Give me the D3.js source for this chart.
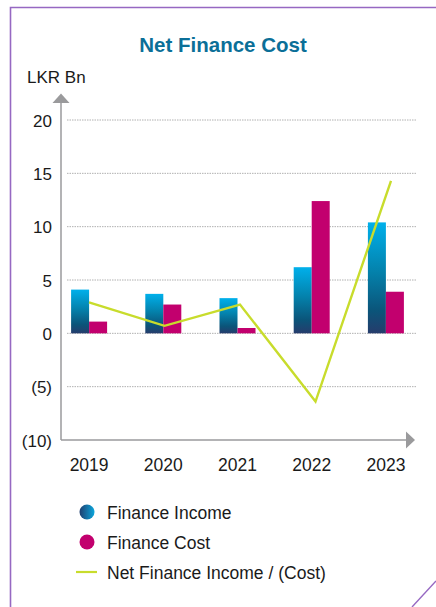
<!DOCTYPE html>
<html>
<head>
<meta charset="utf-8">
<script src="https://cdn.jsdelivr.net/npm/d3@7"></script>
<style>
  html, body { margin: 0; padding: 0; background: #fff; }
  svg { display: block; font-family: "Liberation Sans", Arial, Helvetica, sans-serif; }
</style>
</head>
<body>
<svg id="chart" width="436" height="607"></svg>
<script>
// Net finance figures, LKR Bn
const years = ["2019", "2020", "2021", "2022", "2023"];
const financeIncome = [4.1, 3.7, 3.3, 6.2, 10.4];
const financeCost = [1.1, 2.7, 0.5, 12.4, 3.9];
const netFinance = [2.9, 0.7, 2.7, -6.4, 14.3];
const yTicks = [-10, -5, 0, 5, 10, 15, 20];
const legendLabels = ["Finance Income", "Finance Cost", "Net Finance Income / (Cost)"];

const svg = d3.select("#chart");
const defs = svg.append("defs");

// vertical gradient for income bars
const barGrad = defs.append("linearGradient")
  .attr("id", "incomeGrad").attr("x1", 0).attr("y1", 0).attr("x2", 0).attr("y2", 1);
barGrad.append("stop").attr("offset", "0%").attr("stop-color", "#00b0eb");
barGrad.append("stop").attr("offset", "45%").attr("stop-color", "#0481ab");
barGrad.append("stop").attr("offset", "80%").attr("stop-color", "#0b5479");
barGrad.append("stop").attr("offset", "100%").attr("stop-color", "#263c6c");

// horizontal gradient for the legend dot
const dotGrad = defs.append("linearGradient")
  .attr("id", "incomeDot").attr("x1", 0).attr("y1", 0).attr("x2", 1).attr("y2", 0);
dotGrad.append("stop").attr("offset", "0%").attr("stop-color", "#1f3f70");
dotGrad.append("stop").attr("offset", "100%").attr("stop-color", "#0aa6dc");

const magenta = "#c2006e";
const lime = "#c8dc2c";
const axisGrey = "#9a9a9c";
const purple = "#9668c2";

// frame
svg.append("path")
  .attr("d", "M10.5,607 L10.5,7.5 L436,7.5")
  .attr("fill", "none").attr("stroke", purple).attr("stroke-width", 1.6);
svg.append("line")
  .attr("x1", 412).attr("y1", 607).attr("x2", 436).attr("y2", 581)
  .attr("stroke", purple).attr("stroke-width", 1.4);

// title
svg.append("text")
  .attr("x", 223).attr("y", 52)
  .attr("text-anchor", "middle")
  .attr("font-size", 20.5).attr("font-weight", "bold")
  .attr("fill", "#0b6f98")
  .text("Net Finance Cost");

svg.append("text")
  .attr("x", 27).attr("y", 83)
  .attr("font-size", 17).attr("fill", "#1a1a1a")
  .text("LKR Bn");

// scales
const y = d3.scaleLinear().domain([-10, 20]).range([440, 120]);
const x = d3.scaleBand().domain(years).range([52, 423]).padding(0);
const sub = d3.scaleBand().domain(["income", "cost"]).range([0, 36]).padding(0);
const xLine = d3.scalePoint().domain(years).range([89, 391]);

// gridlines
const grid = svg.append("g");
grid.selectAll("line")
  .data(yTicks.filter(d => d > -10))
  .join("line")
  .attr("x1", 67).attr("x2", 417)
  .attr("y1", d => y(d)).attr("y2", d => y(d))
  .attr("stroke", "#b0b0b0").attr("stroke-width", 1)
  .attr("stroke-dasharray", "1.5,1");

// y axis labels
const yAxis = d3.axisLeft(y).tickValues(yTicks).tickSize(0)
  .tickFormat(d => d < 0 ? "(" + Math.abs(d) + ")" : d);
const gy = svg.append("g").attr("transform", "translate(52,0)").call(yAxis);
gy.select(".domain").remove();
gy.selectAll("text")
  .attr("x", 0).attr("dy", "0.36em")
  .attr("font-size", 17).attr("fill", "#1a1a1a")
  .attr("font-family", "\"Liberation Sans\", Arial, sans-serif");

// x axis labels
const xAxis = d3.axisBottom(x).tickSize(0);
const gx = svg.append("g").attr("transform", "translate(0,459)").call(xAxis);
gx.select(".domain").remove();
gx.selectAll("text")
  .attr("y", 0).attr("dy", "0.71em")
  .attr("font-size", 17.5).attr("fill", "#1a1a1a")
  .attr("font-family", "\"Liberation Sans\", Arial, sans-serif");

// bars
const groups = svg.append("g").selectAll("g")
  .data(years).join("g")
  .attr("transform", d => `translate(${x(d) + x.bandwidth() / 2 - 18},0)`);

groups.append("rect")
  .attr("x", sub("income")).attr("width", sub.bandwidth())
  .attr("y", (d, i) => y(financeIncome[i]))
  .attr("height", (d, i) => y(0) - y(financeIncome[i]))
  .attr("fill", "url(#incomeGrad)");

groups.append("rect")
  .attr("x", sub("cost")).attr("width", sub.bandwidth())
  .attr("y", (d, i) => y(financeCost[i]))
  .attr("height", (d, i) => y(0) - y(financeCost[i]))
  .attr("fill", magenta);

// axes lines with arrowheads
svg.append("line")
  .attr("x1", 61).attr("x2", 61).attr("y1", 101).attr("y2", y(-10))
  .attr("stroke", axisGrey).attr("stroke-width", 1.5);
svg.append("path")
  .attr("d", "M52.5,103 L61,93.5 L69.5,103 Z").attr("fill", axisGrey);
svg.append("line")
  .attr("x1", 61).attr("x2", 408).attr("y1", y(-10)).attr("y2", y(-10))
  .attr("stroke", axisGrey).attr("stroke-width", 1.5);
svg.append("path")
  .attr("d", `M406,${y(-10) - 8.5} L415,${y(-10)} L406,${y(-10) + 8.5} Z`).attr("fill", axisGrey);

// net line
const line = d3.line().x((d, i) => xLine(years[i])).y(d => y(d));
svg.append("path")
  .datum(netFinance)
  .attr("d", line)
  .attr("fill", "none").attr("stroke", lime).attr("stroke-width", 2.4)
  .attr("stroke-linejoin", "miter");

// legend
const legend = svg.append("g");
const rows = legend.selectAll("g").data(legendLabels).join("g")
  .attr("transform", (d, i) => `translate(0,${519 + i * 30})`);
rows.append("text")
  .attr("x", 107).attr("y", 0)
  .attr("font-size", 17.5).attr("fill", "#1a1a1a")
  .text(d => d);
rows.filter((d, i) => i === 0).append("circle")
  .attr("cx", 87).attr("cy", -7).attr("r", 7.5).attr("fill", "url(#incomeDot)");
rows.filter((d, i) => i === 1).append("circle")
  .attr("cx", 87).attr("cy", -7).attr("r", 7.5).attr("fill", magenta);
rows.filter((d, i) => i === 2).append("line")
  .attr("x1", 76).attr("x2", 97).attr("y1", -7).attr("y2", -7)
  .attr("stroke", lime).attr("stroke-width", 2.2);
</script>
</body>
</html>
